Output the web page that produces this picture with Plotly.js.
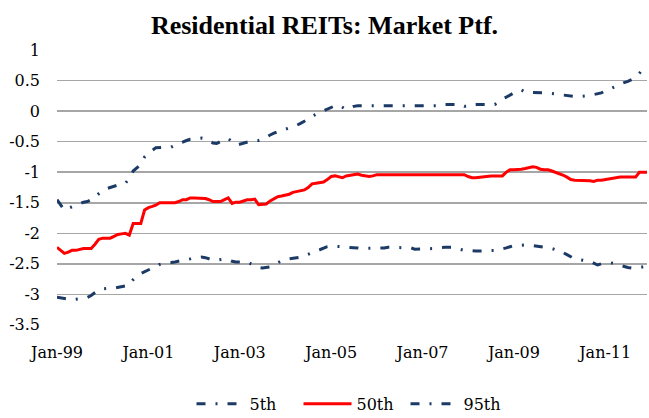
<!DOCTYPE html>
<html>
<head>
<meta charset="utf-8">
<script src="https://cdn.plot.ly/plotly-3.0.1.min.js"></script>
<style>html,body{margin:0;padding:0;background:#fff;}#chart{width:649px;height:418px;}</style>
</head>
<body>
<div id="chart"></div>
<script>
// Monthly observations, Jan-1999 .. Dec-2011
const startYear = 1999;
const nMonths = 156;
const months = [];
for (let i = 0; i < nMonths; i++) {
  const y = startYear + Math.floor(i / 12);
  const m = (i % 12) + 1;
  months.push(y + '-' + (m < 10 ? '0' + m : m) + '-01');
}

const p5 = [
  -3.05,-3.06,-3.08,-3.09,-3.09,-3.08,-3.08,-3.07,-3.05,-3.02,-2.97,-2.93,
  -2.91,-2.90,-2.90,-2.90,-2.89,-2.88,-2.87,-2.85,-2.76,-2.70,-2.66,-2.63,
  -2.59,-2.57,-2.55,-2.51,-2.49,-2.49,-2.48,-2.47,-2.46,-2.45,-2.44,-2.42,
  -2.40,-2.39,-2.39,-2.40,-2.42,-2.44,-2.44,-2.43,-2.42,-2.43,-2.46,-2.47,
  -2.47,-2.47,-2.47,-2.50,-2.53,-2.56,-2.57,-2.56,-2.55,-2.52,-2.48,-2.45,
  -2.43,-2.42,-2.41,-2.41,-2.39,-2.37,-2.34,-2.31,-2.29,-2.27,-2.24,-2.22,
  -2.21,-2.21,-2.22,-2.22,-2.23,-2.23,-2.23,-2.24,-2.25,-2.25,-2.25,-2.25,
  -2.25,-2.25,-2.24,-2.23,-2.23,-2.23,-2.23,-2.23,-2.23,-2.24,-2.26,-2.26,
  -2.26,-2.26,-2.26,-2.25,-2.24,-2.23,-2.23,-2.23,-2.23,-2.25,-2.27,-2.28,
  -2.28,-2.29,-2.29,-2.29,-2.29,-2.29,-2.29,-2.28,-2.27,-2.26,-2.24,-2.22,
  -2.20,-2.20,-2.19,-2.19,-2.19,-2.20,-2.20,-2.21,-2.22,-2.23,-2.25,-2.27,
  -2.29,-2.32,-2.35,-2.38,-2.42,-2.43,-2.44,-2.44,-2.46,-2.49,-2.52,-2.50,
  -2.49,-2.48,-2.49,-2.51,-2.53,-2.55,-2.56,-2.57,-2.57,-2.56,-2.55,-2.55
];

const p50 = [
  -2.23,-2.28,-2.33,-2.31,-2.28,-2.28,-2.26,-2.25,-2.25,-2.25,-2.18,-2.10,
  -2.08,-2.08,-2.08,-2.05,-2.02,-2.01,-2.00,-2.03,-1.84,-1.84,-1.84,-1.62,
  -1.58,-1.56,-1.54,-1.50,-1.50,-1.50,-1.50,-1.50,-1.48,-1.45,-1.45,-1.42,
  -1.42,-1.42,-1.42,-1.43,-1.45,-1.48,-1.48,-1.48,-1.45,-1.42,-1.51,-1.49,
  -1.49,-1.47,-1.45,-1.45,-1.44,-1.53,-1.53,-1.52,-1.47,-1.44,-1.40,-1.39,
  -1.38,-1.36,-1.33,-1.32,-1.30,-1.29,-1.25,-1.19,-1.18,-1.17,-1.16,-1.12,
  -1.07,-1.06,-1.08,-1.09,-1.06,-1.05,-1.04,-1.03,-1.05,-1.06,-1.07,-1.06,
  -1.04,-1.04,-1.04,-1.04,-1.04,-1.04,-1.04,-1.04,-1.04,-1.04,-1.04,-1.04,
  -1.04,-1.04,-1.04,-1.04,-1.04,-1.04,-1.04,-1.04,-1.04,-1.04,-1.04,-1.04,
  -1.07,-1.09,-1.09,-1.08,-1.07,-1.06,-1.06,-1.06,-1.06,-1.06,-1.00,-0.96,
  -0.96,-0.96,-0.95,-0.94,-0.93,-0.91,-0.92,-0.95,-0.96,-0.96,-0.98,-1.00,
  -1.02,-1.05,-1.08,-1.12,-1.13,-1.13,-1.13,-1.13,-1.14,-1.15,-1.13,-1.13,
  -1.12,-1.10,-1.09,-1.08,-1.08,-1.08,-1.08,-1.08,-1.08,-1.00,-1.00,-1.00
];

const p95 = [
  -1.45,-1.55,-1.62,-1.59,-1.56,-1.54,-1.52,-1.49,-1.48,-1.45,-1.40,-1.35,
  -1.30,-1.27,-1.25,-1.23,-1.21,-1.19,-1.18,-1.10,-0.98,-0.93,-0.87,-0.75,
  -0.69,-0.64,-0.60,-0.59,-0.59,-0.59,-0.59,-0.56,-0.53,-0.50,-0.48,-0.46,
  -0.45,-0.44,-0.44,-0.45,-0.48,-0.52,-0.53,-0.50,-0.46,-0.45,-0.50,-0.55,
  -0.54,-0.52,-0.50,-0.49,-0.48,-0.48,-0.46,-0.42,-0.39,-0.36,-0.34,-0.32,
  -0.30,-0.28,-0.26,-0.23,-0.20,-0.17,-0.13,-0.08,-0.05,-0.02,0.01,0.04,
  0.07,0.09,0.10,0.06,0.03,0.05,0.08,0.09,0.09,0.09,0.09,0.09,
  0.09,0.09,0.09,0.09,0.09,0.09,0.09,0.09,0.09,0.09,0.09,0.09,
  0.09,0.09,0.09,0.09,0.09,0.11,0.11,0.11,0.11,0.11,0.11,0.08,
  0.08,0.08,0.11,0.11,0.11,0.11,0.11,0.11,0.15,0.20,0.23,0.27,
  0.30,0.32,0.35,0.31,0.31,0.31,0.31,0.31,0.30,0.30,0.29,0.28,
  0.27,0.26,0.26,0.25,0.24,0.24,0.24,0.25,0.26,0.27,0.28,0.30,
  0.33,0.36,0.38,0.41,0.44,0.47,0.49,0.52,0.55,0.62,0.70,0.72
];

const seriesNames = ['5th', '50th', '95th'];
const tickDates = ['1999-01-01','2001-01-01','2003-01-01','2005-01-01','2007-01-01','2009-01-01','2011-01-01'];
const tickLabels = ['Jan-99','Jan-01','Jan-03','Jan-05','Jan-07','Jan-09','Jan-11'];
const yTicks = [1, 0.5, 0, -0.5, -1, -1.5, -2, -2.5, -3, -3.5];

const navy = '#1b3a66';
const dashStyle = '9px,10px,2px,10px';
const font = 'DejaVu Serif, Liberation Serif, serif';
const titleFont = 'Liberation Serif, Times New Roman, serif';

const traces = [
  {x: months, y: p5, name: seriesNames[0], type: 'scatter', mode: 'lines',
   line: {color: navy, width: 3, dash: dashStyle}},
  {x: months, y: p50, name: seriesNames[1], type: 'scatter', mode: 'lines',
   line: {color: '#ff0000', width: 3}},
  {x: months, y: p95, name: seriesNames[2], type: 'scatter', mode: 'lines',
   line: {color: navy, width: 3, dash: dashStyle}}
];

const layout = {
  width: 649, height: 418,
  paper_bgcolor: '#ffffff', plot_bgcolor: '#ffffff',
  margin: {l: 57, r: 2, t: 50, b: 93, autoexpand: false},
  font: {family: font, size: 16, color: '#000'},
  title: {text: '<b>Residential REITs: Market Ptf.</b>', x: 0.5, xref: 'container', xanchor: 'center',
          y: 0.94, yref: 'container', yanchor: 'middle',
          font: {family: titleFont, size: 26, color: '#000'}},
  xaxis: {type: 'date', range: ['1999-01-01', '2011-12-01'],
          tickvals: tickDates, ticktext: tickLabels, ticks: '', showgrid: false,
          showline: false, zeroline: false, ticklabelstandoff: 16, automargin: false,
          tickfont: {family: font, size: 16, color: '#000'}},
  yaxis: {range: [-3.503, 1.003], tickvals: yTicks, ticktext: yTicks.map(String),
          showgrid: true, gridcolor: '#a6a6a6', gridwidth: 1.5, zeroline: false,
          showline: false, ticks: '', ticklabelstandoff: 16, automargin: false,
          tickfont: {family: font, size: 16, color: '#000'}},
  legend: {orientation: 'h', x: 0.5, xanchor: 'center', y: -0.287, yanchor: 'middle',
           font: {family: font, size: 16, color: '#000'}, itemwidth: 48,
           entrywidth: 44, entrywidthmode: 'pixels'},
  showlegend: true
};

Plotly.newPlot('chart', traces, layout, {displayModeBar: false, staticPlot: true});
</script>
</body>
</html>
